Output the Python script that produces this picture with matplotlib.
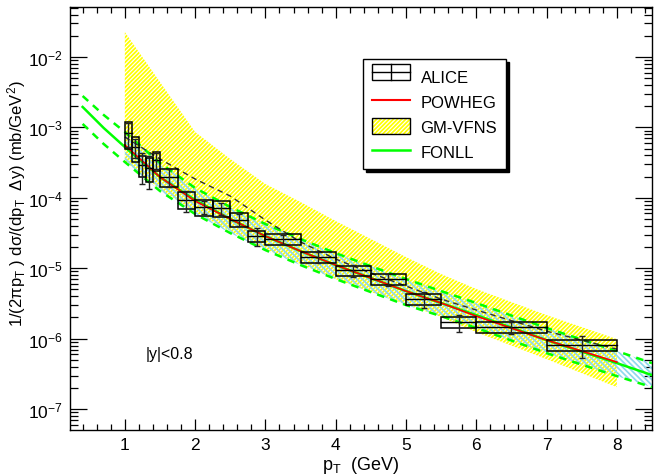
import numpy as np
import matplotlib
matplotlib.use('Agg')
import matplotlib.pyplot as plt
from matplotlib.patches import Rectangle, Patch
from matplotlib.lines import Line2D
from matplotlib.legend_handler import HandlerBase
from matplotlib.ticker import FixedLocator, NullFormatter

plt.rcParams['font.family'] = ['Liberation Sans', 'DejaVu Sans']
plt.rcParams['mathtext.fontset'] = 'custom'
plt.rcParams['mathtext.rm'] = 'Liberation Sans'
plt.rcParams['mathtext.it'] = 'Liberation Sans:italic'
plt.rcParams['hatch.linewidth'] = 1.25

# ALICE data: bin edges, values, relative stat / syst uncertainties
pt_lo = [1.0, 1.1, 1.2, 1.3, 1.4, 1.5, 1.75, 2.0, 2.25, 2.5, 2.75, 3.0, 3.5, 4.0, 4.5, 5.0, 5.5, 6.0, 7.0]
pt_hi = [1.1, 1.2, 1.3, 1.4, 1.5, 1.75, 2.0, 2.25, 2.5, 2.75, 3.0, 3.5, 4.0, 4.5, 5.0, 5.5, 6.0, 7.0, 8.0]
alice = [8.4e-4, 5.3e-4, 2.96e-4, 2.65e-4, 3.45e-4, 1.99e-4, 9.46e-5, 7.45e-5, 7.15e-5, 4.92e-5,
         2.87e-5, 2.60e-5, 1.43e-5, 9.3e-6, 7.0e-6, 3.64e-6, 1.72e-6, 1.45e-6, 8.2e-7]
stat = [0.38, 0.30, 0.47, 0.50, 0.26, 0.28, 0.33, 0.20, 0.20, 0.20, 0.28, 0.15, 0.18, 0.20, 0.20, 0.26, 0.28, 0.20, 0.35]
syst = [0.41, 0.387, 0.339, 0.374, 0.31, 0.277, 0.265, 0.25, 0.247, 0.225, 0.188, 0.178, 0.178, 0.171,
        0.178, 0.171, 0.171, 0.178, 0.171]

# FONLL central and band
fonll_pt = [0.4, 0.7, 1.0, 1.5, 2.0, 2.5, 3.0, 3.5, 4.0, 4.5, 5.0, 5.5, 6.0, 7.0, 8.0, 8.5]
fonll_c = [1.95e-3, 9.8e-4, 5.27e-4, 1.97e-4, 9.31e-5, 5.0e-5, 2.86e-5, 1.75e-5, 1.11e-5, 7.26e-6,
           4.74e-6, 3.21e-6, 2.16e-6, 9.55e-7, 4.5e-7, 3.04e-7]
fonll_hi = [2.79e-3, 1.5e-3, 8.61e-4, 3.12e-4, 1.38e-4, 7.4e-5, 4.25e-5, 2.6e-5, 1.64e-5, 1.07e-5,
            7.03e-6, 4.74e-6, 3.21e-6, 1.42e-6, 6.67e-7, 4.5e-7]
fonll_lo = [1.12e-3, 5.81e-4, 3.23e-4, 1.25e-4, 5.89e-5, 3.16e-5, 1.81e-5, 1.11e-5, 7.03e-6, 4.59e-6,
            3.0e-6, 2.09e-6, 1.42e-6, 6.24e-7, 2.94e-7, 2.05e-7]

# POWHEG central
pow_pt = [1.0, 1.5, 2.0, 2.5, 3.0, 3.5, 4.0, 4.5, 5.0, 5.5, 6.0, 7.0, 8.0]
pow_c = [5.62e-4, 1.97e-4, 9.01e-5, 5.0e-5, 2.86e-5, 1.75e-5, 1.11e-5, 7.26e-6, 4.74e-6, 3.21e-6,
         2.09e-6, 9.55e-7, 4.65e-7]

# GM-VFNS central and band
gm_pt = [1.0, 1.5, 2.0, 2.5, 3.0, 3.5, 4.0, 4.5, 5.0, 5.5, 6.0, 7.0, 8.0]
gm_c = [7.31e-4, 3.56e-4, 1.85e-4, 1.06e-4, 4.84e-5, 2.36e-5, 1.35e-5, 8.55e-6, 5.59e-6, 3.65e-6,
        2.55e-6, 1.28e-6, 7.11e-7]
gm_hi = [2.26e-2, 4.41e-3, 8.61e-4, 3.56e-4, 1.57e-4, 8.71e-5, 4.68e-5, 2.6e-5, 1.44e-5, 8.27e-6,
         5.07e-6, 2.16e-6, 9.87e-7]
gm_lo = [3.33e-4, 1.33e-4, 6.28e-5, 3.37e-5, 1.87e-5, 1.15e-5, 7.03e-6, 4.59e-6, 3.1e-6, 2.03e-6,
         1.24e-6, 5.13e-7, 2.05e-7]

xticks = [1, 2, 3, 4, 5, 6, 7, 8]
yticks = [1e-7, 1e-6, 1e-5, 1e-4, 1e-3, 1e-2]

YELLOW = '#ffff00'
GREEN = '#00ff00'
CYAN = '#8fd8ee'

fig = plt.figure(figsize=(6.54, 4.77), dpi=100)
ax = fig.add_axes([0.107, 0.097, 0.890, 0.886])
ax.set_yscale('log')
ax.set_xlim(0.22, 8.5)
ax.set_ylim(5.1e-8, 5.1e-2)

ax.fill_between(gm_pt, gm_lo, gm_hi, facecolor='none', edgecolor=YELLOW, hatch='////////',
                linewidth=0, zorder=1)
fp = np.array(fonll_pt)
m = fp >= 1.0
ax.fill_between(fp[m], np.array(fonll_lo)[m], np.array(fonll_hi)[m], facecolor='none',
                edgecolor=CYAN, hatch='\\\\\\\\\\\\', linewidth=0, zorder=2)

ax.plot(fonll_pt, fonll_c, color=GREEN, lw=1.8, zorder=3)
ax.plot(fonll_pt, fonll_hi, color=GREEN, lw=1.8, ls=(0, (3, 2.5)), zorder=3)
ax.plot(fonll_pt, fonll_lo, color=GREEN, lw=1.8, ls=(0, (3, 2.5)), zorder=3)
ax.plot(pow_pt, pow_c, color='#ff0000', lw=1.2, zorder=4)
ax.plot(gm_pt, gm_c, color='#303030', lw=1.0, ls=(0, (4, 3)), zorder=4)

# ALICE boxes + stat bars
for lo, hi, v, st, sy in zip(pt_lo, pt_hi, alice, stat, syst):
    ax.add_patch(Rectangle((lo, v * (1 - sy)), hi - lo, 2 * v * sy, fill=False,
                           edgecolor='k', lw=1.1, zorder=6))
    ax.plot([lo, hi], [v, v], color='k', lw=1.0, zorder=6)
xc = [(a + b) / 2 for a, b in zip(pt_lo, pt_hi)]
yerr = [[v * s for v, s in zip(alice, stat)], [v * s for v, s in zip(alice, stat)]]
ax.errorbar(xc, alice, yerr=yerr, fmt='none', ecolor='#222222', elinewidth=1.0,
            capsize=2, capthick=1.0, zorder=7)

ax.text(1.29, 6.2e-7, '|y|<0.8', fontsize=11.5, va='center', ha='left')

# axes style (ROOT like)
ax.xaxis.set_major_locator(FixedLocator(xticks))
ax.xaxis.set_minor_locator(FixedLocator(np.arange(0.4, 8.5, 0.2)))
ax.yaxis.set_major_locator(FixedLocator(yticks))
ax.yaxis.set_minor_locator(FixedLocator([k * d for d in [1e-8] + yticks for k in range(2, 10)
                                         if 5.1e-8 < k * d < 5.1e-2]))
ax.yaxis.set_minor_formatter(NullFormatter())
ax.tick_params(which='both', direction='in', top=True, right=True, width=0.9, labelsize=12.5)
ax.tick_params(axis='x', which='major', length=8, pad=5)
ax.tick_params(axis='x', which='minor', length=4.5)
ax.tick_params(axis='y', which='major', length=12, pad=5)
ax.tick_params(axis='y', which='minor', length=6)
for s in ax.spines.values():
    s.set_linewidth(1.0)

ax.set_xlabel(r'p$_\mathregular{T}$  (GeV)', fontsize=13, labelpad=2)
ax.set_ylabel(r'1/(2πp$_\mathregular{T}$ ) dσ/(dp$_\mathregular{T}$  Δy) (mb/GeV$^\mathregular{2}$)',
              fontsize=12, labelpad=4)
ax.yaxis.set_label_coords(-0.072, 0.537)


class BoxCross(HandlerBase):
    def create_artists(self, legend, orig, xd, yd, w, h, fs, trans):
        r = Rectangle((xd, yd), w, h, fill=False, ec='k', lw=1, transform=trans)
        l1 = Line2D([xd, xd + w], [yd + h / 2] * 2, color='k', lw=1, transform=trans)
        l2 = Line2D([xd + w / 2] * 2, [yd, yd + h], color='k', lw=1, transform=trans)
        return [r, l1, l2]


h_alice = Rectangle((0, 0), 1, 1)
h_pow = Line2D([], [], color='#ff0000', lw=1.5)
h_gm = (Patch(facecolor='none', edgecolor=YELLOW, hatch='////////', lw=0),
        Patch(fill=False, edgecolor='k', lw=1))
h_fonll = Line2D([], [], color=GREEN, lw=1.8)
leg = fig.legend([h_alice, h_pow, h_gm, h_fonll], ['ALICE', 'POWHEG', 'GM-VFNS', 'FONLL'],
                 handler_map={Rectangle: BoxCross()},
                 loc='upper left', bbox_to_anchor=(0.555, 0.874), bbox_transform=fig.transFigure,
                 borderaxespad=0, fontsize=12, handlelength=2.3, handleheight=1.1,
                 labelspacing=0.5, handletextpad=0.6, borderpad=0.55, fancybox=False,
                 edgecolor='k', framealpha=1, shadow={'color': 'k', 'alpha': 1})
leg.get_frame().set_linewidth(1.0)

fig.savefig('out.png', dpi=100)
